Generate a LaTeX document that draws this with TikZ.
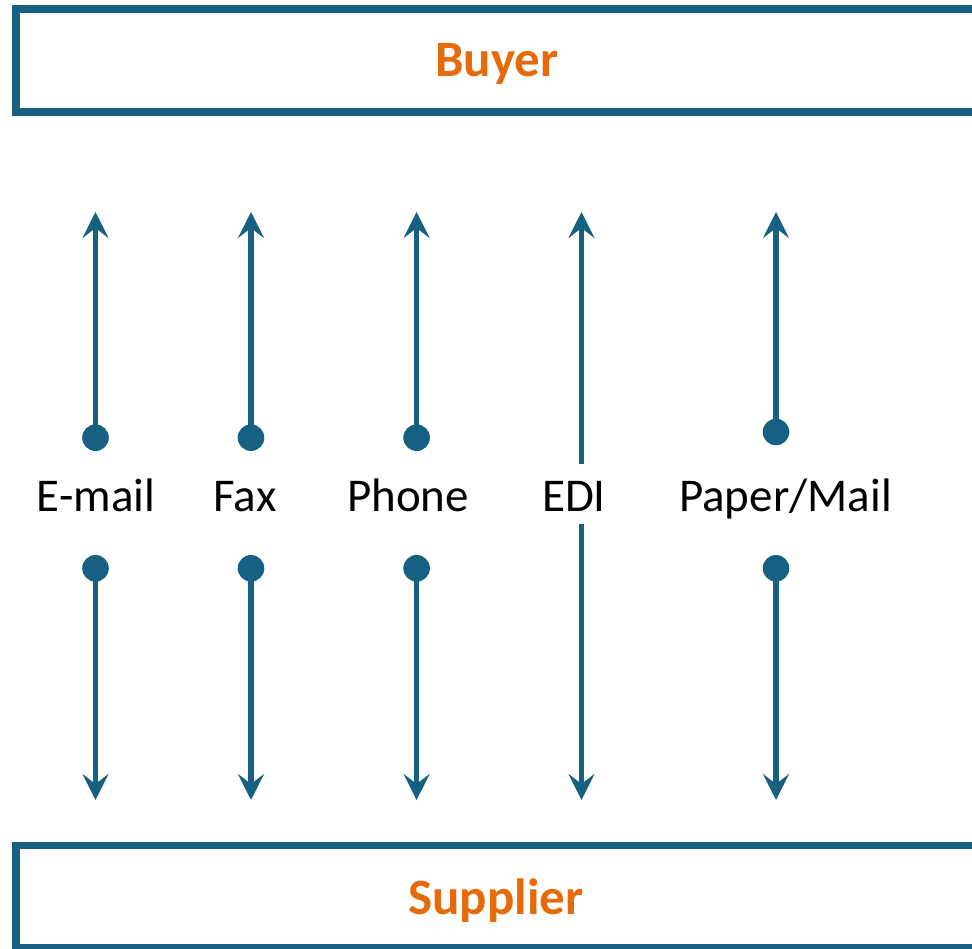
\documentclass[tikz,border=0pt]{standalone}
\usepackage{fontspec}
\setmainfont{Carlito}
\usetikzlibrary{arrows.meta}
\definecolor{linkblue}{RGB}{22,96,130}
\definecolor{titleorange}{RGB}{230,106,10}
\begin{document}
\begin{tikzpicture}[x=1pt,y=-1pt,
  party/.style={draw=linkblue, line width=7.5pt, inner sep=0pt, outer sep=0pt, anchor=north west, minimum width=990pt},
  title/.style={font=\bfseries\fontsize{51}{51}\selectfont, text=titleorange, anchor=base},
  chan/.style={font=\fontsize{47}{47}\selectfont, anchor=base, text=black},
  dotnode/.style={circle, fill=linkblue, minimum size=26.6pt, inner sep=0pt},
  link/.style={draw=linkblue, line width=5.3pt, -{Stealth[length=26pt,width=26pt,inset=10pt]}},
  plainlink/.style={draw=linkblue, line width=5.3pt}
]
\clip (0,0) rectangle (972,949);
\useasboundingbox (0,0) rectangle (972,949);
% boxes
\node[party, minimum height=103pt] (buyerbox) at (16,9) {};
\node[party, minimum height=102pt] (supplierbox) at (16,845.5) {};
\node[title] (buyer) at (497,77) {Buyer};
\node[title] (supplier) at (496,914) {Supplier};
% labels
\node[chan] (email) at (96,511) {E-mail};
\node[chan] (fax) at (245,511) {Fax};
\node[chan] (phone) at (408,511) {Phone};
\node[chan] (edi) at (574,511) {EDI};
\node[chan] (paper) at (785.5,511) {Paper/Mail};
% tips
\coordinate (tu1) at (95.5,212); \coordinate (td1) at (95.5,800);
\coordinate (tu2) at (251,212);  \coordinate (td2) at (251,800);
\coordinate (tu3) at (416.6,212); \coordinate (td3) at (416.6,800);
\coordinate (tu4) at (581.5,212); \coordinate (td4) at (581.5,800);
\coordinate (tu5) at (776,212);  \coordinate (td5) at (776,800);
\coordinate (eu) at (581.5,464); \coordinate (ed) at (581.5,524);
% dots
\node[dotnode] (du1) at (95.5,437.7) {};
\node[dotnode] (dd1) at (95.5,568.3) {};
\node[dotnode] (du2) at (251,437.7) {};
\node[dotnode] (dd2) at (251,568.3) {};
\node[dotnode] (du3) at (416.6,437.7) {};
\node[dotnode] (dd3) at (416.6,568.3) {};
\node[dotnode] (du5) at (776,432) {};
\node[dotnode] (dd5) at (776,568.3) {};
% arrows
\draw[link] (du1.center) -- (tu1);
\draw[link] (dd1.center) -- (td1);
\draw[link] (du2.center) -- (tu2);
\draw[link] (dd2.center) -- (td2);
\draw[link] (du3.center) -- (tu3);
\draw[link] (dd3.center) -- (td3);
\draw[link] (eu) -- (tu4);
\draw[link] (ed) -- (td4);
\draw[link] (du5.center) -- (tu5);
\draw[link] (dd5.center) -- (td5);
\end{tikzpicture}
\end{document}
